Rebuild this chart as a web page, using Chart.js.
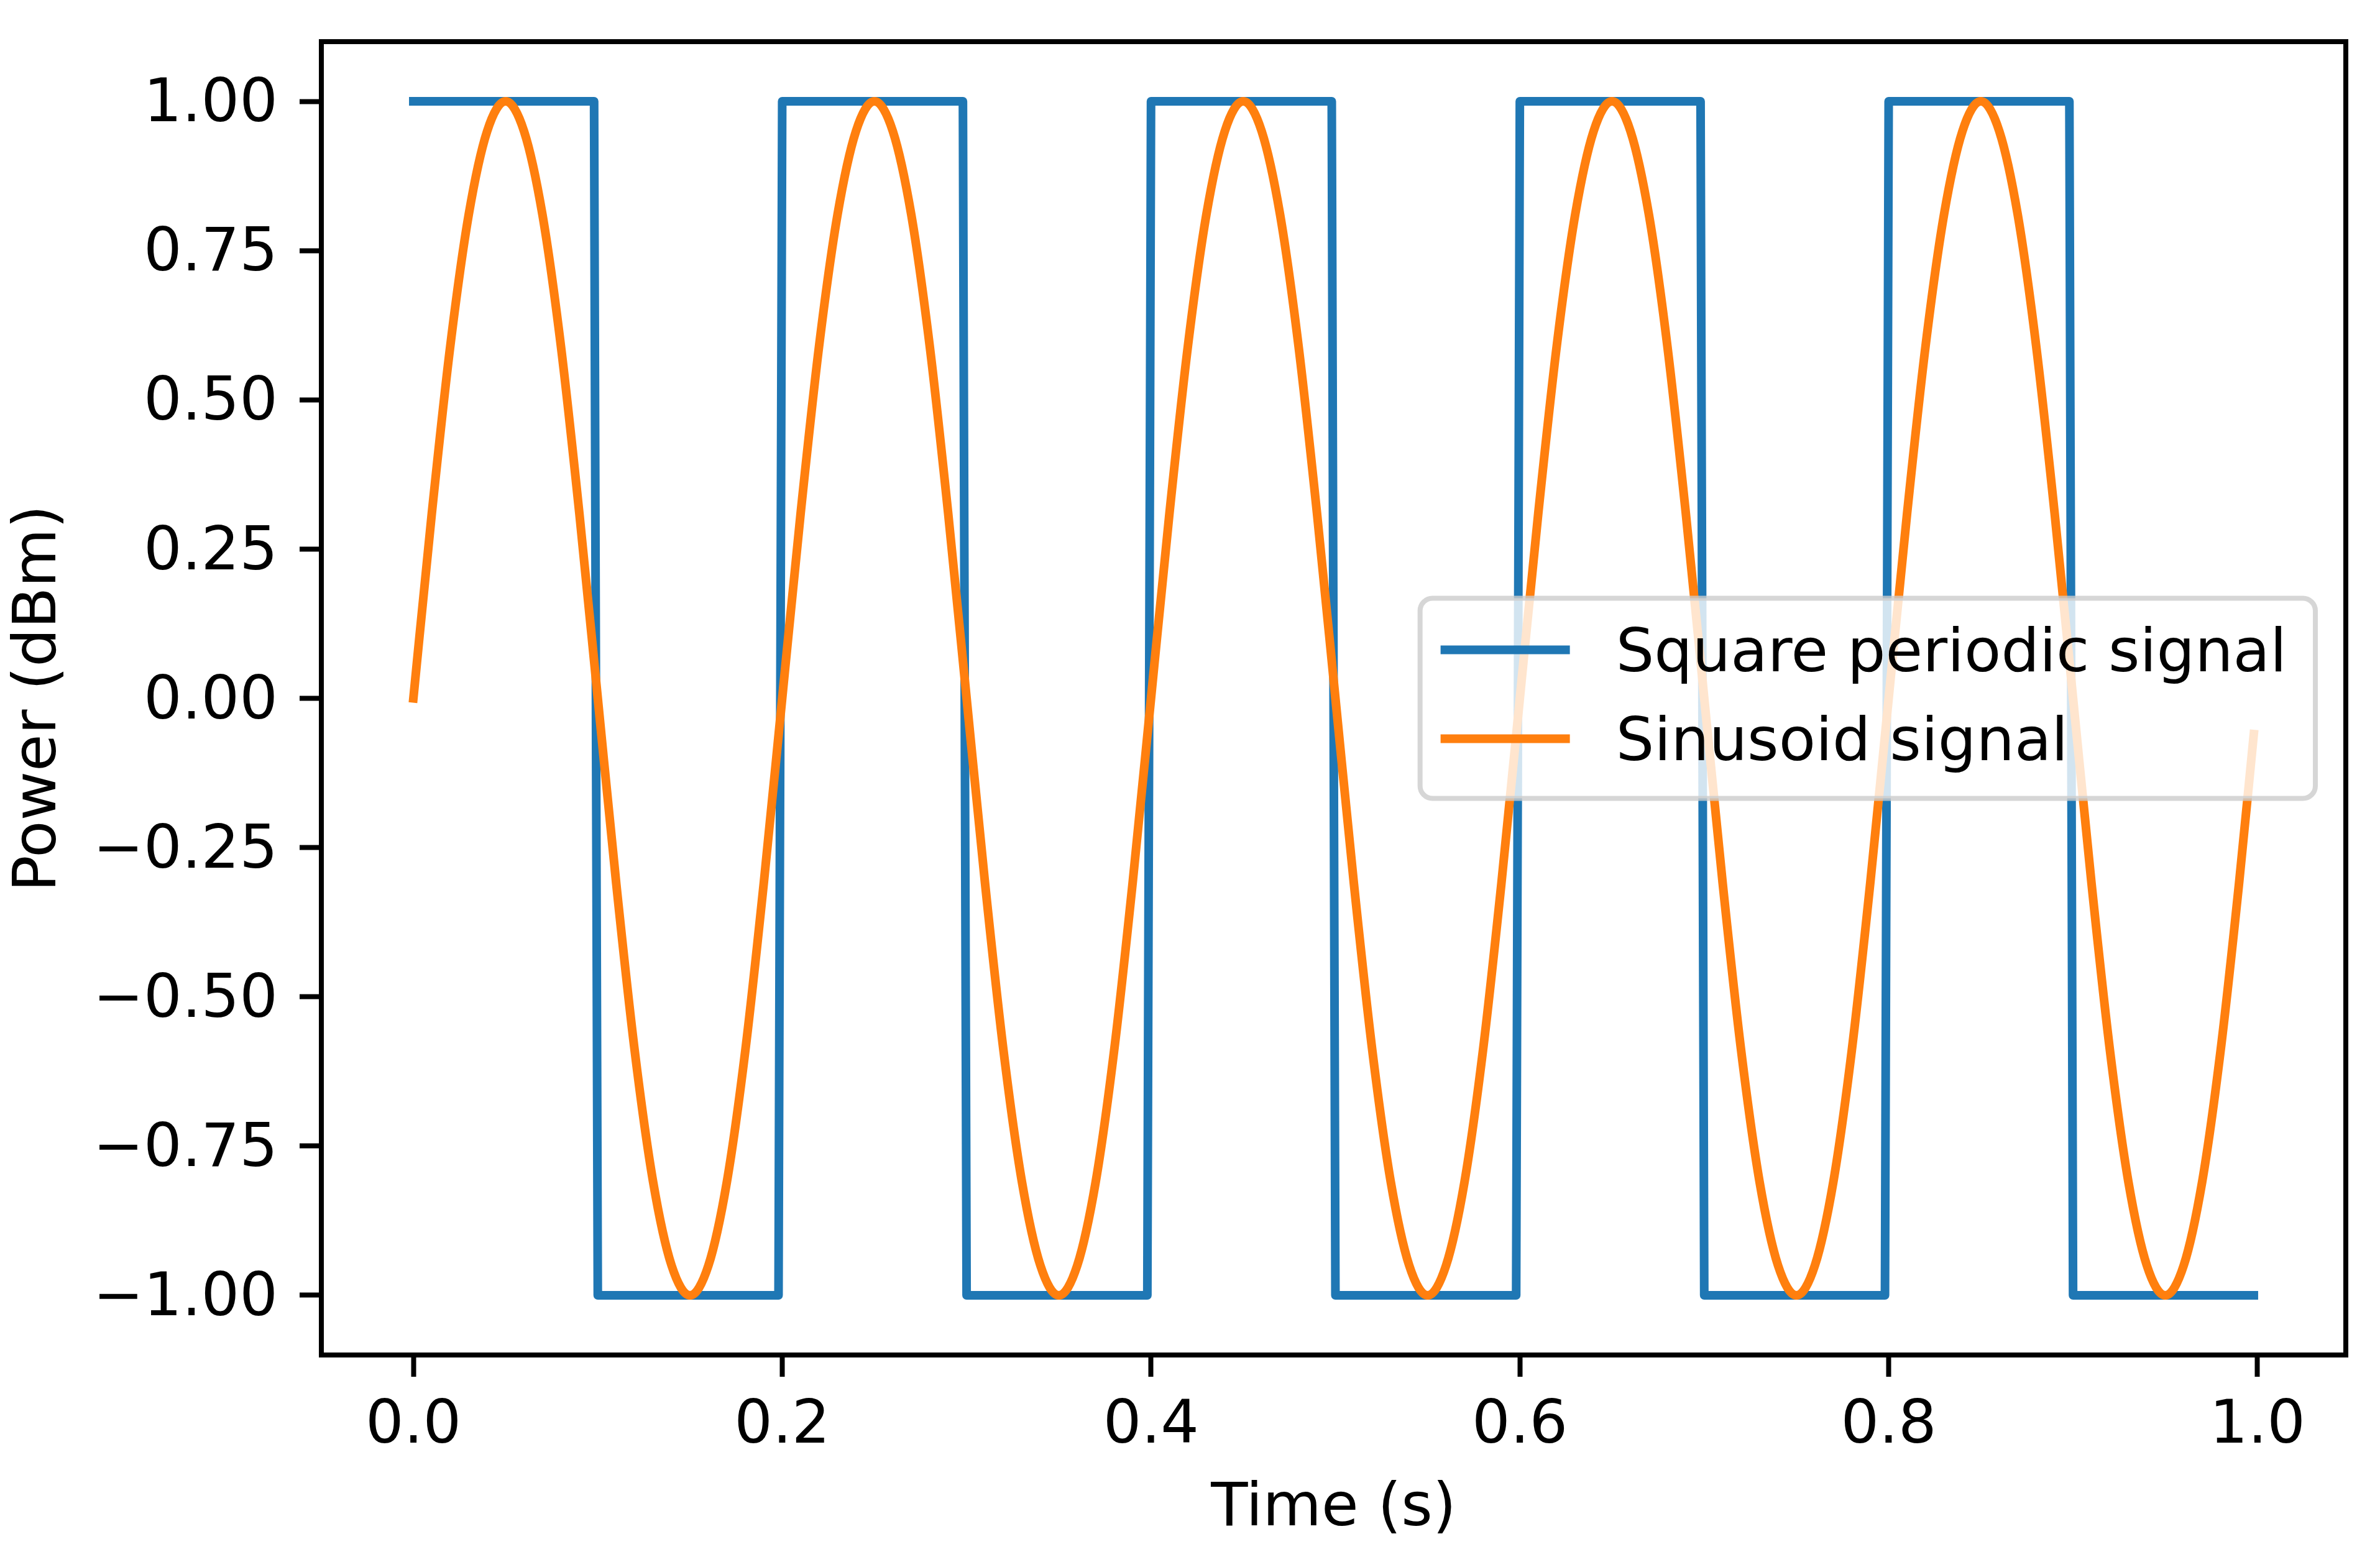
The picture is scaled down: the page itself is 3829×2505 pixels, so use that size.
<!DOCTYPE html>
<html lang="en">
<head>
<meta charset="UTF-8">
<title>Square and sinusoid signals</title>
<script src="https://cdn.jsdelivr.net/npm/chart.js"></script>
<style>
    html, body {
        margin: 0;
        padding: 0;
        background: #fff;
    }
    #wrap {
        width: 3829px;
        height: 2505px;
    }
</style>
</head>
<body>
<div id="wrap"><canvas id="signalChart" width="3829" height="2505"></canvas></div>
<script>
// square wave: corner points of the blue trace
const squareTime = [0, 0.098, 0.1, 0.198, 0.2, 0.298, 0.3, 0.398, 0.4, 0.498,
                    0.5, 0.598, 0.6, 0.698, 0.7, 0.798, 0.8, 0.898, 0.9, 0.998];
const squareValue = [1, 1, -1, -1, 1, 1, -1, -1, 1, 1,
                     -1, -1, 1, 1, -1, -1, 1, 1, -1, -1];

// sinusoid, read every 0.01 s
const sineTime = [
    0.00, 0.01, 0.02, 0.03, 0.04, 0.05, 0.06, 0.07, 0.08, 0.09,
    0.10, 0.11, 0.12, 0.13, 0.14, 0.15, 0.16, 0.17, 0.18, 0.19,
    0.20, 0.21, 0.22, 0.23, 0.24, 0.25, 0.26, 0.27, 0.28, 0.29,
    0.30, 0.31, 0.32, 0.33, 0.34, 0.35, 0.36, 0.37, 0.38, 0.39,
    0.40, 0.41, 0.42, 0.43, 0.44, 0.45, 0.46, 0.47, 0.48, 0.49,
    0.50, 0.51, 0.52, 0.53, 0.54, 0.55, 0.56, 0.57, 0.58, 0.59,
    0.60, 0.61, 0.62, 0.63, 0.64, 0.65, 0.66, 0.67, 0.68, 0.69,
    0.70, 0.71, 0.72, 0.73, 0.74, 0.75, 0.76, 0.77, 0.78, 0.79,
    0.80, 0.81, 0.82, 0.83, 0.84, 0.85, 0.86, 0.87, 0.88, 0.89,
    0.90, 0.91, 0.92, 0.93, 0.94, 0.95, 0.96, 0.97, 0.98, 0.99,
    0.998
];
const sineValue = [
    0, 0.31, 0.59, 0.81, 0.95, 1, 0.95, 0.81, 0.59, 0.31,
    0, -0.31, -0.59, -0.81, -0.95, -1, -0.95, -0.81, -0.59, -0.31,
    0, 0.31, 0.59, 0.81, 0.95, 1, 0.95, 0.81, 0.59, 0.31,
    0, -0.31, -0.59, -0.81, -0.95, -1, -0.95, -0.81, -0.59, -0.31,
    0, 0.31, 0.59, 0.81, 0.95, 1, 0.95, 0.81, 0.59, 0.31,
    0, -0.31, -0.59, -0.81, -0.95, -1, -0.95, -0.81, -0.59, -0.31,
    0, 0.31, 0.59, 0.81, 0.95, 1, 0.95, 0.81, 0.59, 0.31,
    0, -0.31, -0.59, -0.81, -0.95, -1, -0.95, -0.81, -0.59, -0.31,
    0, 0.31, 0.59, 0.81, 0.95, 1, 0.95, 0.81, 0.59, 0.31,
    0, -0.31, -0.59, -0.81, -0.95, -1, -0.95, -0.81, -0.59, -0.31,
    -0.06
];

const xTicks = [0, 0.2, 0.4, 0.6, 0.8, 1.0];
const yTicks = [-1, -0.75, -0.5, -0.25, 0, 0.25, 0.5, 0.75, 1];
const seriesLabels = ['Square periodic signal', 'Sinusoid signal'];
const seriesColors = ['#1f77b4', '#ff7f0e'];

const FONT = 'DejaVu Sans';
const FONT_SIZE = 97;

function fmt(v, digits) {
    const s = Math.abs(v).toFixed(digits);
    return (v < 0 ? '\u2212' : '') + s;
}

// matplotlib-like frame on all four sides
const framePlugin = {
    id: 'frame',
    afterDatasetsDraw(chart) {
        const { ctx, chartArea: a } = chart;
        ctx.save();
        ctx.strokeStyle = '#000';
        ctx.lineWidth = 8;
        ctx.strokeRect(a.left, a.top, a.right - a.left, a.bottom - a.top);
        ctx.restore();
    }
};

// legend box inside the plot, centre right, half transparent
const legendPlugin = {
    id: 'boxLegend',
    afterDatasetsDraw(chart) {
        const { ctx, chartArea: a } = chart;
        ctx.save();
        ctx.font = FONT_SIZE + 'px "' + FONT + '"';
        const textW = Math.max(...seriesLabels.map(s => ctx.measureText(s).width));
        const w = 315 + textW + 46;
        const h = 322;
        const right = a.right - 49;
        const left = right - w;
        const top = (a.top + a.bottom) / 2 - h / 2;

        ctx.beginPath();
        ctx.roundRect(left, top, w, h, 20);
        ctx.fillStyle = 'rgba(255,255,255,0.8)';
        ctx.fill();
        ctx.lineWidth = 8;
        ctx.strokeStyle = 'rgba(204,204,204,0.8)';
        ctx.stroke();

        seriesLabels.forEach((label, i) => {
            const y = top + 83 + i * 143;
            ctx.beginPath();
            ctx.moveTo(left + 33, y);
            ctx.lineTo(left + 241, y);
            ctx.strokeStyle = seriesColors[i];
            ctx.lineWidth = 14;
            ctx.lineCap = 'butt';
            ctx.stroke();
            ctx.fillStyle = '#000';
            ctx.textBaseline = 'alphabetic';
            ctx.textAlign = 'left';
            ctx.fillText(label, left + 315, y + 34);
        });
        ctx.restore();
    }
};

const tickGrid = {
    display: true,
    drawOnChartArea: false,
    drawTicks: true,
    tickLength: 35,
    tickWidth: 8,
    tickColor: '#000'
};

const ctx = document.getElementById('signalChart').getContext('2d');
new Chart(ctx, {
    type: 'line',
    data: {
        datasets: [
            {
                label: seriesLabels[0],
                data: squareTime.map((t, i) => ({ x: t, y: squareValue[i] })),
                borderColor: seriesColors[0],
                borderWidth: 14,
                pointRadius: 0,
                fill: false,
                borderCapStyle: 'square',
                borderJoinStyle: 'round',
                order: 1
            },
            {
                label: seriesLabels[1],
                data: sineTime.map((t, i) => ({ x: t, y: sineValue[i] })),
                borderColor: seriesColors[1],
                borderWidth: 14,
                pointRadius: 0,
                fill: false,
                cubicInterpolationMode: 'monotone',
                borderCapStyle: 'square',
                borderJoinStyle: 'round',
                order: 0
            }
        ]
    },
    options: {
        responsive: false,
        animation: false,
        devicePixelRatio: 1,
        events: [],
        layout: { padding: { top: 67, right: 55, left: 0, bottom: 0 } },
        plugins: {
            legend: { display: false },
            tooltip: { enabled: false }
        },
        scales: {
            x: {
                type: 'linear',
                min: -0.0499,
                max: 1.0479,
                afterBuildTicks: s => { s.ticks = xTicks.map(v => ({ value: v })); },
                afterFit: s => {
                    s.height = 325;
                    s.paddingLeft = 0;
                    s.paddingRight = 0;
                },
                grid: tickGrid,
                border: { display: false },
                ticks: {
                    font: { family: FONT, size: FONT_SIZE, lineHeight: 0.95 },
                    color: '#000',
                    padding: 35,
                    maxRotation: 0,
                    autoSkip: false,
                    callback: v => fmt(v, 1)
                },
                title: {
                    display: true,
                    text: 'Time (s)',
                    color: '#000',
                    font: { family: FONT, size: FONT_SIZE, lineHeight: 1 },
                    padding: { top: 0, bottom: 28 }
                }
            },
            y: {
                type: 'linear',
                min: -1.1,
                max: 1.1,
                afterBuildTicks: s => { s.ticks = yTicks.map(v => ({ value: v })); },
                afterFit: s => {
                    s.width = 517;
                    s.paddingTop = 0;
                    s.paddingBottom = 0;
                },
                grid: tickGrid,
                border: { display: false },
                ticks: {
                    font: { family: FONT, size: FONT_SIZE, lineHeight: 1.2 },
                    color: '#000',
                    padding: 35,
                    labelOffset: 7,
                    autoSkip: false,
                    callback: v => fmt(v, 2)
                },
                title: {
                    display: true,
                    text: 'Power (dBm)',
                    color: '#000',
                    font: { family: FONT, size: FONT_SIZE, lineHeight: 1 },
                    padding: { top: 15, bottom: 0 }
                }
            }
        }
    },
    plugins: [framePlugin, legendPlugin]
});
</script>
</body>
</html>
